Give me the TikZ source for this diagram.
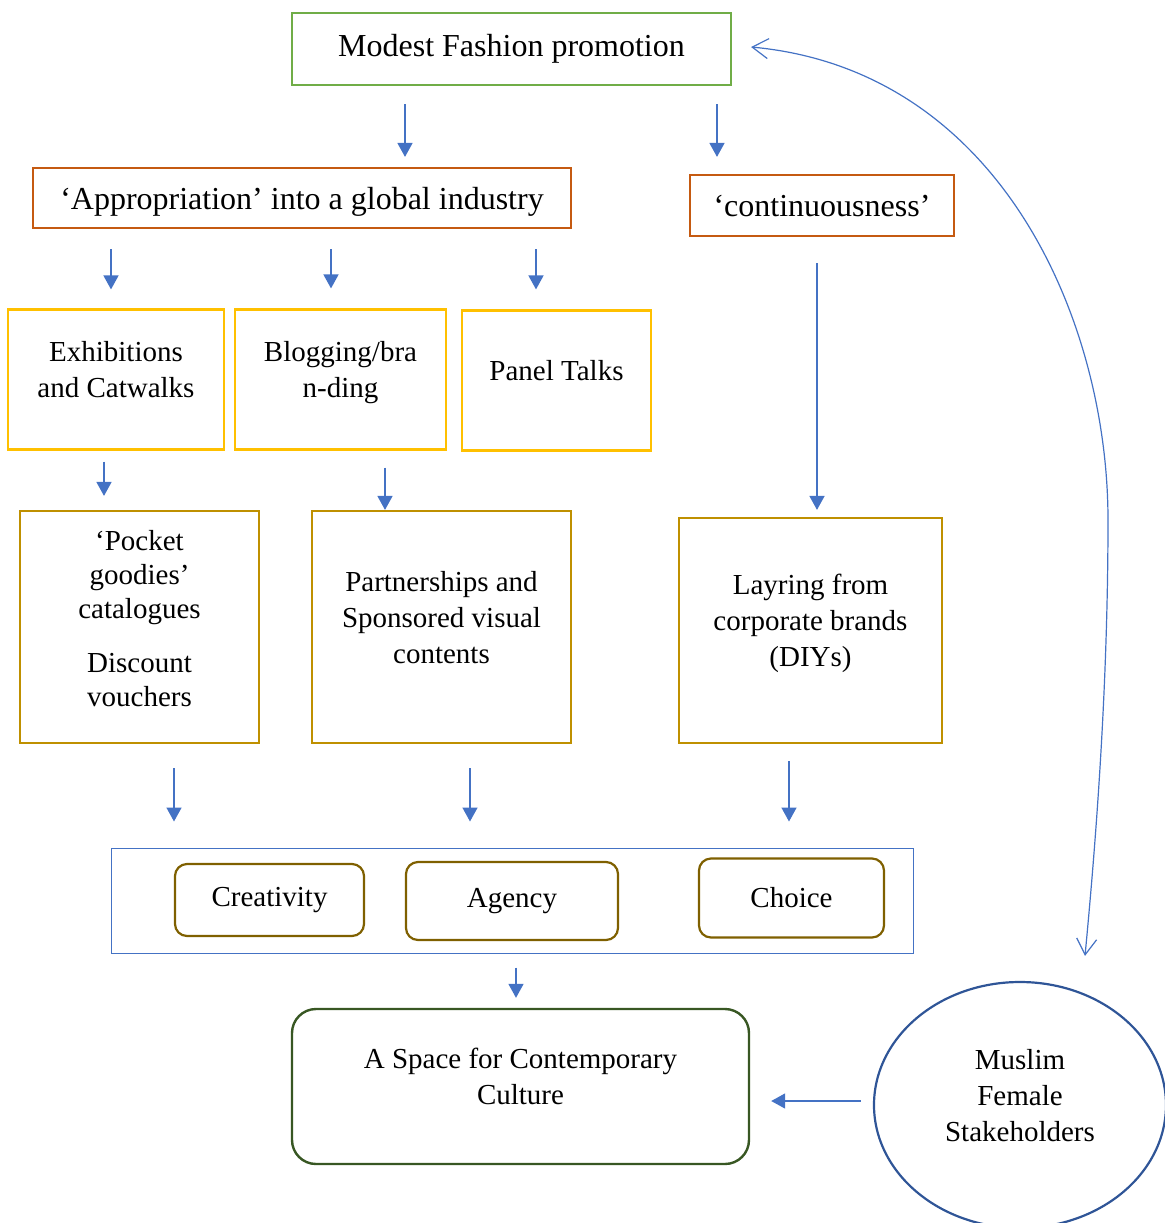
\documentclass[tikz,border=0pt]{standalone}
\usepackage{fontspec}
\setmainfont{Liberation Serif}
\usetikzlibrary{calc,shapes.geometric,arrows.meta}

\definecolor{topgreen}{HTML}{70AD47}
\definecolor{rust}{HTML}{C55A11}
\definecolor{amber}{HTML}{FFC000}
\definecolor{gold}{HTML}{BF9000}
\definecolor{olive}{HTML}{7F6000}
\definecolor{leaf}{HTML}{385723}
\definecolor{arrowblue}{HTML}{4472C4}
\definecolor{navy}{HTML}{2F5597}

% empty last line, lifts the text a little inside its box
\newcommand{\lift}{\\[-8pt]\mbox{}}

\begin{document}
\begin{tikzpicture}[x=0.5pt,y=-0.5pt,
    every node/.style={font=\fontsize{14.5}{18}\selectfont, align=center},
    big/.style={font=\fontsize{16}{19}\selectfont},
    box/.style={draw, line width=1.1pt, inner sep=2pt},
    topbox/.style={box, big, draw=topgreen, minimum width=219.5pt, minimum height=36pt},
    themebox/.style={box, big, draw=rust},
    channelbox/.style={box, draw=amber, minimum height=70pt},
    outputbox/.style={box, draw=gold, minimum height=114pt},
    valuebox/.style={box, draw=olive, rounded corners=6pt},
    flow/.style={draw=arrowblue, line width=0.8pt, -{Triangle[length=7pt,width=7.5pt]}},
    feedback/.style={draw=arrowblue, line width=0.6pt,
        {Straight Barb[length=8pt,width=10pt]}-{Straight Barb[length=8pt,width=10pt]}}
]
\useasboundingbox (0,0) rectangle (1164,1223);

% Top level
\node[topbox] (top) at (511.5,49) {Modest Fashion promotion};
\node[themebox, text depth=0pt, minimum width=269pt, minimum height=30pt] (appr) at (302,198) {‘Appropriation’ into a global industry};
\node[themebox, minimum width=132pt, minimum height=30.5pt] (cont) at (822,205.5) {‘continuousness’};

% Channels
\node[channelbox, minimum width=108pt] (exh) at (116,379.5) {Exhibitions\\and Catwalks\lift};
\node[channelbox, minimum width=105.5pt] (blog) at (340.5,379.5) {Blogging/bra\\n-ding\lift};
\node[channelbox, minimum width=94.5pt] (panel) at (556.5,380.5) {Panel Talks\lift};

% Outputs
\node[outputbox, font=\fontsize{14.5}{17}\selectfont, minimum width=119.5pt, minimum height=116pt] (pocket) at (139.5,627)
    {‘Pocket\\goodies’\\catalogues\\[10pt]Discount\\vouchers\lift};
\node[outputbox, minimum width=129.5pt, minimum height=116pt] (partner) at (441.5,627) {Partnerships and\\Sponsored visual\\contents\lift};
\node[outputbox, minimum width=131.5pt, minimum height=112.5pt] (layr) at (810.5,630.5) {Layring from\\corporate brands\\(DIYs)\lift};

% Values
\node[draw=arrowblue, line width=0.5pt, minimum width=401pt, minimum height=52.5pt] (frame) at (512,900.5) {};
\node[valuebox, minimum width=94.5pt, minimum height=36pt] (crea) at (269.5,900) {Creativity};
\node[valuebox, minimum width=106pt, minimum height=39pt] (agency) at (512,901) {Agency};
\node[valuebox, minimum width=92.5pt, minimum height=39.5pt] (choice) at (791.5,898) {Choice};

% Bottom
\node[draw=leaf, line width=1.2pt, rounded corners=12pt, minimum width=228.5pt, minimum height=77.5pt] (space) at (520.5,1086.5) {};
\node (spacetxt) at ($(space.center)+(0,-10)$) {A Space for Contemporary\\Culture};
\node[ellipse, draw=navy, line width=1.1pt, minimum width=146pt, minimum height=123pt] (stake) at (1020,1105) {Muslim\\Female\\Stakeholders\lift};

% Arrows
\draw[flow] ($(top.south)+(-106.5,18)$) -- ($(appr.north)+(103,-10)$);
\draw[flow] ($(top.south)+(205.5,18)$) -- ($(cont.north)+(-105,-17)$);
\draw[flow] ($(appr.south)+(-191,20)$) -- ($(exh.north)+(-5,-19)$);
\draw[flow] ($(appr.south)+(29,20)$) -- ($(blog.north)+(-9.5,-20)$);
\draw[flow] ($(appr.south)+(234,20)$) -- ($(panel.north)+(-20.5,-20)$);
\draw[flow] ($(cont.south)+(-5,26)$) -- ($(layr.north)+(6.5,-7)$);
\draw[flow] ($(exh.south)+(-12,11)$) -- ($(pocket.north)+(-35.5,-14)$);
\draw[flow] ($(blog.south)+(44.5,17)$) -- ($(partner.north)+(-56.5,0)$);
\draw[flow] ($(pocket.south)+(34.5,24)$) -- ($(frame.north)+(-338,-26)$);
\draw[flow] ($(partner.south)+(28.5,24)$) -- ($(frame.north)+(-42,-26)$);
\draw[flow] ($(layr.south)+(-21.5,17)$) -- ($(frame.north)+(277,-26)$);
\draw[flow] ($(frame.south)+(4,14)$) -- ($(space.north)+(-4.5,-10)$);
\draw[flow] ($(stake.west)+(-12,-4)$) -- ($(space.east)+(21,14.5)$);

% Feedback loop to the top
\coordinate (loopend) at ($(stake.north)+(65,-25)$);
\coordinate (looptop) at ($(top.east)+(19,-2)$);
\draw[feedback] (loopend) .. controls (1097,830) and (1108,680) .. (1108,520)
    .. controls (1108,320) and (1000,70) .. (looptop);

\end{tikzpicture}
\end{document}
